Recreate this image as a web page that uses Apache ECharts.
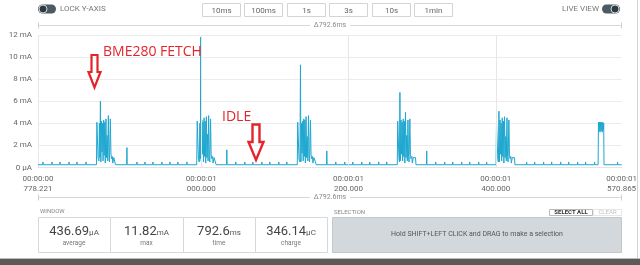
<!DOCTYPE html>
<html><head><meta charset="utf-8">
<script src="https://cdn.jsdelivr.net/npm/echarts@6/dist/echarts.min.js"></script>
<style>html,body{margin:0;padding:0;background:#fff}#c{width:640px;height:265px}</style>
</head><body><div id="c"></div>
<script>
// ---- data (time in ms, current in mA) ----
const tStart = 778.221, tEnd = 1570.865;
const xTickValues = [778.221, 1000, 1200, 1400, 1570.865];
const xTickLabels = ['00:00:00\n778.221', '00:00:01\n000.000', '00:00:01\n200.000', '00:00:01\n400.000', '00:00:01\n570.865'];
const yTickLabels = ['0 μA', '2 mA', '4 mA', '6 mA', '8 mA', '10 mA', '12 mA'];
const baselineMA = 0.25;
const idleTickMA = 0.5;
const idleTickTimes = [785.0, 797.2, 808.1, 820.3, 831.1, 843.4, 912.6, 923.5, 934.3, 946.5, 957.4, 968.2, 980.5,
  1046.9, 1059.2, 1070.0, 1082.3, 1093.1, 1105.3, 1116.2, 1182.7, 1194.9, 1205.8, 1218.0, 1228.8, 1241.0, 1251.9,
  1318.4, 1330.6, 1341.5, 1353.7, 1364.6, 1376.8, 1387.6, 1441.9, 1452.8, 1465.0, 1475.9, 1488.1, 1499.0, 1511.2,
  1522.0, 1534.2, 1565.4];
const singleSpikes = [[899.0, 1.8], [1034.7, 1.6], [1170.5, 1.5], [1306.2, 1.5]];
const burst1 = [[857.6,0.25],[858.2,4.1],[859.4,4.1],[859.9,0.8],[861.0,0.6],[861.6,4.0],[862.3,0.9],[863.0,6.0],[863.6,0.5],[864.5,4.2],[865.2,1.4],[865.9,4.0],[866.6,0.6],[867.4,4.3],[868.1,1.1],[868.9,4.1],[869.6,0.4],[870.5,4.4],[871.3,0.9],[872.1,2.9],[872.9,0.6],[873.8,4.7],[874.6,1.1],[875.3,0.5],[876.5,4.4],[877.3,1.3],[878.0,0.8],[879.2,1.0],[879.8,0.4],[880.6,0.4],[881.2,0.9],[882.8,0.9],[883.4,0.25]];
const burst2 = [[993.8,0.25],[994.5,4.2],[995.6,4.1],[996.2,0.7],[997.4,0.5],[998.1,4.0],[998.7,0.8],[999.3,11.82],[999.9,0.6],[1000.8,4.3],[1001.5,1.2],[1002.3,4.1],[1003.0,0.5],[1003.8,4.5],[1004.5,1.0],[1005.3,4.2],[1006.0,0.4],[1006.9,4.6],[1007.7,0.9],[1008.4,3.0],[1009.2,0.6],[1010.0,4.7],[1010.8,1.0],[1011.6,0.5],[1012.6,4.4],[1013.4,1.2],[1014.2,0.8],[1015.4,1.0],[1016.0,0.4],[1016.8,0.4],[1017.4,0.9],[1019.6,0.9],[1020.2,0.25]];
const burst3 = [[1130.4,0.25],[1131.0,4.1],[1132.2,4.1],[1132.8,0.7],[1134.0,0.5],[1134.7,9.3],[1135.3,0.5],[1136.2,4.0],[1136.9,1.3],[1137.7,4.2],[1138.4,0.6],[1139.2,4.4],[1139.9,1.0],[1140.7,4.3],[1141.4,0.4],[1142.3,4.6],[1143.1,0.9],[1143.9,2.8],[1144.7,0.6],[1145.6,4.7],[1146.4,1.0],[1147.1,0.5],[1148.3,4.3],[1149.1,1.2],[1149.8,0.8],[1151.0,1.0],[1151.6,0.4],[1152.4,0.4],[1153.0,0.9],[1155.6,0.9],[1156.2,0.25]];
const burst4 = [[1266.2,0.25],[1266.8,4.2],[1267.9,4.2],[1268.5,0.8],[1269.2,0.5],[1269.8,6.8],[1270.4,0.6],[1271.3,4.3],[1272.0,1.2],[1272.8,4.1],[1273.5,0.6],[1274.3,4.4],[1275.0,1.0],[1275.8,4.2],[1276.5,0.4],[1277.4,5.0],[1278.2,0.9],[1279.0,2.9],[1279.8,0.6],[1280.7,4.3],[1281.5,1.0],[1282.2,0.5],[1283.3,4.4],[1284.1,1.2],[1284.8,0.8],[1286.0,1.0],[1286.6,0.4],[1287.4,0.4],[1288.0,0.9],[1291.0,0.9],[1291.6,0.25]];
const burst5 = [[1400.4,0.25],[1401.0,4.1],[1402.2,4.1],[1402.8,0.7],[1403.6,0.5],[1404.3,5.1],[1404.9,0.5],[1405.8,4.3],[1406.5,1.2],[1407.3,4.0],[1408.0,0.6],[1408.8,4.5],[1409.5,1.0],[1410.3,4.2],[1411.0,0.4],[1411.9,4.6],[1412.7,0.9],[1413.5,2.8],[1414.3,0.6],[1415.2,4.5],[1416.0,1.0],[1416.7,0.5],[1417.8,4.3],[1418.6,1.2],[1419.3,0.8],[1420.5,1.0],[1421.1,0.4],[1421.9,0.4],[1422.5,0.9],[1425.4,0.9],[1426.0,0.25]];
const endBlock = [[1539.0,0.25],[1539.5,4.1],[1540.2,3.3],[1540.8,4.1],[1541.5,3.2],[1542.2,4.1],[1543.0,3.3],[1543.8,4.1],[1544.6,3.2],[1545.4,4.1],[1546.2,3.4],[1546.6,4.0],[1547.0,0.25]];
const statValues = ['436.69', '11.82', '792.6', '346.14'];
const statUnits = ['μA', 'mA', 'ms', 'μC'];
const statNames = ['average', 'max', 'time', 'charge'];
const rangeButtons = ['10ms', '100ms', '1s', '3s', '10s', '1min'];
const deltaLabel = 'Δ792.6ms';

// ---- build trace ----
let pts = [[tStart, baselineMA], [tEnd, baselineMA]];
idleTickTimes.forEach(t => { pts.push([t - 0.35, baselineMA], [t, idleTickMA], [t + 0.35, baselineMA]); });
singleSpikes.forEach(s => { pts.push([s[0] - 0.35, baselineMA], [s[0], s[1]], [s[0] + 0.35, baselineMA]); });
pts = pts.concat(burst1, burst2, burst3, burst4, burst5, endBlock);
pts.sort((a, b) => a[0] - b[0]);

const FONT = 'Roboto, "Open Sans", sans-serif';
const gray = '#666';
const g = [];
// top controls
function toggle(x, knobRight) {
  g.push({ type: 'rect', shape: { x: x, y: 4.5, width: 18, height: 9, r: 4.5 }, style: { fill: '#4b5a63' } });
  g.push({ type: 'circle', shape: { cx: knobRight ? x + 13 : x + 5, cy: 9, r: 4 }, style: { fill: '#2f3b42', stroke: '#cfd6da', lineWidth: 1 } });
}
toggle(38, false);
toggle(602, true);
g.push({ type: 'text', style: { x: 60, y: 9, text: 'LOCK Y-AXIS', font: '8px ' + FONT, fill: '#777', align: 'left', verticalAlign: 'middle' } });
g.push({ type: 'text', style: { x: 599, y: 9, text: 'LIVE VIEW', font: '8px ' + FONT, fill: '#777', align: 'right', verticalAlign: 'middle' } });
const btnX = [202, 244, 287, 329, 372, 414];
rangeButtons.forEach((b, i) => {
  g.push({ type: 'rect', shape: { x: btnX[i] + 0.5, y: 3.5, width: 38, height: 13 }, style: { fill: '#fff', stroke: '#d4d4d4', lineWidth: 1 } });
  g.push({ type: 'text', style: { x: btnX[i] + 19.5, y: 10.5, text: b, font: '8px ' + FONT, fill: gray, align: 'center', verticalAlign: 'middle' } });
});
// delta brackets
function bracket(y) {
  g.push({ type: 'line', shape: { x1: 38.5, y1: y, x2: 621.5, y2: y }, style: { stroke: '#d8d8d8', lineWidth: 1 } });
  g.push({ type: 'line', shape: { x1: 38.5, y1: y - 3, x2: 38.5, y2: y + 3 }, style: { stroke: '#cfcfcf', lineWidth: 1 } });
  g.push({ type: 'line', shape: { x1: 621.5, y1: y - 3, x2: 621.5, y2: y + 3 }, style: { stroke: '#cfcfcf', lineWidth: 1 } });
  g.push({ type: 'text', style: { x: 330, y: y, text: deltaLabel, font: '7px ' + FONT, fill: '#888', align: 'center', verticalAlign: 'middle', backgroundColor: '#fff', padding: [0, 4] } });
}
bracket(25.5);
bracket(197.5);
// annotations
const red = '#e3242b';
g.push({ type: 'text', z: 20, style: { x: 103, y: 52, text: 'BME280 FETCH', font: '14px "Open Sans", sans-serif', fill: red, align: 'left', verticalAlign: 'middle' } });
g.push({ type: 'polygon', z: 20, shape: { points: [[91.5,55],[97.5,55],[97.5,72],[100.5,72],[94.5,87.5],[88.5,72],[91.5,72]] }, style: { fill: 'rgba(255,255,255,0)', stroke: red, lineWidth: 2.2 } });
g.push({ type: 'text', z: 20, style: { x: 222, y: 117, text: 'IDLE', font: '14px "Open Sans", sans-serif', fill: red, align: 'left', verticalAlign: 'middle' } });
g.push({ type: 'polygon', z: 20, shape: { points: [[252.5,124.5],[259.5,124.5],[259.5,142],[263.5,142],[256,160],[248.5,142],[252.5,142]] }, style: { fill: 'rgba(255,255,255,0)', stroke: red, lineWidth: 2.4 } });
// window panel
g.push({ type: 'text', style: { x: 40, y: 211.5, text: 'WINDOW', font: '6px ' + FONT, fill: '#888', align: 'left', verticalAlign: 'middle' } });
const cellX = [38, 110, 183, 255, 327];
for (let i = 0; i < 4; i++) {
  g.push({ type: 'rect', shape: { x: cellX[i] + 0.5, y: 217.5, width: cellX[i + 1] - cellX[i], height: 35 }, style: { fill: '#fff', stroke: '#d6d9db', lineWidth: 1 } });
  const cx = (cellX[i] + cellX[i + 1]) / 2;
  g.push({ type: 'text', style: { x: cx, y: 231.5, text: '{v|' + statValues[i] + '}{u|' + statUnits[i] + '}', align: 'center', verticalAlign: 'middle',
    rich: { v: { font: '13px ' + FONT, fill: '#444', verticalAlign: 'bottom' }, u: { font: '8px ' + FONT, fill: '#555', verticalAlign: 'bottom', padding: [0, 0, 1, 0] } } } });
  g.push({ type: 'text', style: { x: cx, y: 243.5, text: statNames[i], font: '6.5px ' + FONT, fill: '#777', align: 'center', verticalAlign: 'middle' } });
}
// selection panel
g.push({ type: 'text', style: { x: 334, y: 212, text: 'SELECTION', font: '6px ' + FONT, fill: '#888', align: 'left', verticalAlign: 'middle' } });
g.push({ type: 'rect', shape: { x: 332.5, y: 217.5, width: 289, height: 35 }, style: { fill: '#d3d8dc', stroke: '#c3c8cc', lineWidth: 1 } });
g.push({ type: 'text', style: { x: 477, y: 234.5, text: 'Hold SHIFT+LEFT CLICK and DRAG to make a selection', font: '7px ' + FONT, fill: '#555', align: 'center', verticalAlign: 'middle' } });
g.push({ type: 'rect', shape: { x: 549.5, y: 209.5, width: 43, height: 6 }, style: { fill: '#fff', stroke: '#bbb', lineWidth: 1 } });
g.push({ type: 'text', style: { x: 571, y: 212.5, text: 'SELECT ALL', font: 'bold 6px ' + FONT, fill: '#333', align: 'center', verticalAlign: 'middle' } });
g.push({ type: 'rect', shape: { x: 593.5, y: 209.5, width: 28, height: 6 }, style: { fill: '#fff', stroke: '#e6e6e6', lineWidth: 1 } });
g.push({ type: 'text', style: { x: 607.5, y: 212.5, text: 'CLEAR', font: '6px ' + FONT, fill: '#c4c4c4', align: 'center', verticalAlign: 'middle' } });
// frame
g.push({ type: 'line', shape: { x1: 637.5, y1: 0, x2: 637.5, y2: 259 }, style: { stroke: '#d2d2d2', lineWidth: 1 } });
g.push({ type: 'rect', shape: { x: 0, y: 259, width: 640, height: 6 }, style: { fill: '#5a5a5a' } });
g.push({ type: 'rect', shape: { x: 0, y: 258, width: 640, height: 1 }, style: { fill: '#bdbdbd' } });

const chart = echarts.init(document.getElementById('c'), null, { renderer: 'canvas' });
chart.setOption({
  animation: false,
  backgroundColor: '#fff',
  grid: { left: 38, right: 18, top: 35, bottom: 97.5, containLabel: false },
  xAxis: {
    type: 'value', min: tStart, max: tEnd,
    axisLine: { show: true, lineStyle: { color: '#e4e4e4' } },
    axisTick: { show: false },
    splitLine: { show: false },
    axisLabel: {
      customValues: xTickValues, margin: 6,
      formatter: v => { const i = xTickValues.findIndex(x => Math.abs(x - v) < 0.01); return i >= 0 ? xTickLabels[i] : ''; },
      fontSize: 8, lineHeight: 10, color: gray, fontFamily: FONT, showMinLabel: true, showMaxLabel: true, hideOverlap: false
    }
  },
  yAxis: {
    type: 'value', min: 0, max: 12, interval: 2,
    axisLine: { show: true, lineStyle: { color: '#e8e8e8' } },
    axisTick: { show: false },
    splitLine: { show: true, lineStyle: { color: '#ececec', width: 1 } },
    axisLabel: { formatter: v => yTickLabels[Math.round(v / 2)], fontSize: 8, color: gray, fontFamily: FONT, margin: 6 }
  },
  series: [
    { type: 'line', data: [], z: 1, silent: true,
      markLine: { silent: true, symbol: 'none', label: { show: false },
        lineStyle: { color: '#e6e6e6', type: 'solid', width: 1 },
        data: [{ xAxis: 1000 }, { xAxis: 1200 }, { xAxis: 1400 }, { xAxis: tEnd }] } },
    { type: 'line', data: pts, z: 3, showSymbol: false, sampling: 'none', silent: true,
      lineStyle: { color: '#1ea7d0', width: 1 } }
  ],
  graphic: g
});
</script></body></html>
